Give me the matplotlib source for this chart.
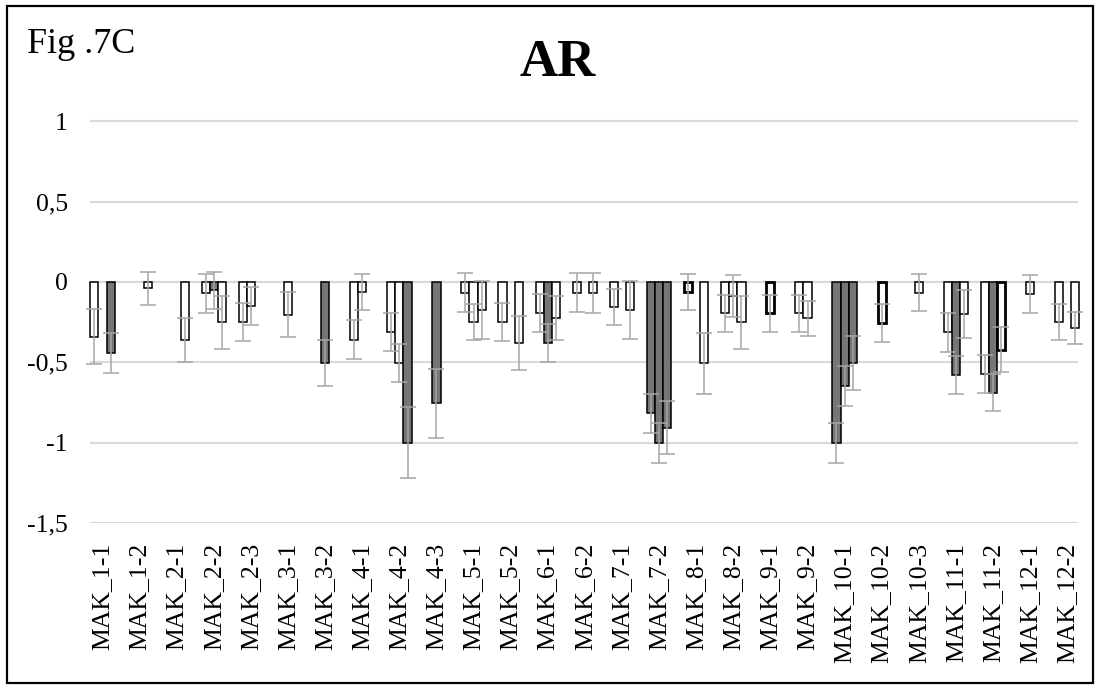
import numpy as np
import matplotlib
matplotlib.use("Agg")
import matplotlib.pyplot as plt
from matplotlib.patches import Rectangle

plt.rcParams['font.family'] = ['Liberation Serif', 'DejaVu Serif']

categories = ["MAK_1-1", "MAK_1-2", "MAK_2-1", "MAK_2-2", "MAK_2-3", "MAK_3-1", "MAK_3-2",
              "MAK_4-1", "MAK_4-2", "MAK_4-3", "MAK_5-1", "MAK_5-2", "MAK_6-1", "MAK_6-2",
              "MAK_7-1", "MAK_7-2", "MAK_8-1", "MAK_8-2", "MAK_9-1", "MAK_9-2", "MAK_10-1",
              "MAK_10-2", "MAK_10-3", "MAK_11-1", "MAK_11-2", "MAK_12-1", "MAK_12-2"]

nan = np.nan
# three series (bar positions within each category); NaN = no bar
series1 = [-0.34, nan, nan, -0.07, -0.25, nan, nan, -0.36, -0.31, nan, -0.066, -0.25, -0.195, -0.066,
           -0.153, -0.817, -0.06, -0.195, nan, -0.195, -1.0, nan, nan, -0.313, -0.572, nan, -0.25]
series2 = [nan, nan, nan, -0.05, -0.15, -0.205, -0.506, -0.06, -0.506, -0.755, -0.25, nan, -0.38, nan,
           nan, -1.0, nan, -0.086, -0.195, -0.226, -0.647, -0.257, -0.066, -0.579, -0.689, -0.075, nan]
series3 = [-0.44, -0.04, -0.36, -0.25, nan, nan, nan, nan, -1.0, nan, -0.174, -0.38, -0.222, -0.066,
           -0.174, -0.906, -0.506, -0.25, nan, nan, -0.506, nan, nan, -0.201, -0.423, nan, -0.288]

err1 = [0.17, 0, 0, 0.12, 0.117, 0, 0, 0.122, 0.12, 0, 0.12, 0.117, 0.118, 0.12,
        0.112, 0.12, 0.112, 0.117, 0, 0.117, 0.124, 0, 0, 0.12, 0.12, 0, 0.114]
err2 = [0, 0, 0, 0.115, 0.12, 0.14, 0.143, 0.112, 0.118, 0.213, 0.114, 0, 0.117, 0,
        0, 0.124, 0, 0.13, 0.117, 0.11, 0.127, 0.117, 0.116, 0.118, 0.114, 0.12, 0]
err3 = [0.125, 0.105, 0.137, 0.165, 0, 0, 0, 0, 0.223, 0, 0.18, 0.167, 0.137, 0.125,
        0.18, 0.167, 0.188, 0.165, 0, 0, 0.168, 0, 0, 0.15, 0.14, 0, 0.1]

# 1 = dark (significant) fill, 0 = white
dark1 = [0, 0, 0, 0, 0, 0, 0, 0, 0, 0, 0, 0, 0, 0, 0, 1, 0, 0, 0, 0, 1, 0, 0, 0, 0, 0, 0]
dark2 = [0, 0, 0, 1, 0, 0, 1, 0, 0, 1, 0, 0, 1, 0, 0, 1, 0, 0, 0, 0, 1, 0, 0, 1, 1, 0, 0]
dark3 = [1, 0, 0, 0, 0, 0, 0, 0, 1, 0, 0, 0, 0, 0, 0, 1, 0, 0, 0, 0, 1, 0, 0, 0, 0, 0, 0]
# 1 = heavy outline
thick1 = [0]*16 + [1] + [0]*10
thick2 = [0]*18 + [1, 0, 0, 1] + [0]*5
thick3 = [0]*24 + [1, 0, 0]

yticks = [1, 0.5, 0, -0.5, -1, -1.5]
ytick_labels = ["1", "0,5", "0", "-0,5", "-1", "-1,5"]

W, H = 1100, 689
fig = plt.figure(figsize=(W / 100, H / 100), dpi=100)

ax_left, ax_right = 90, 1078
ax_top, ax_bot = 113.3, 523
ax = fig.add_axes([ax_left / W, 1 - ax_bot / H, (ax_right - ax_left) / W, (ax_bot - ax_top) / H])

x = np.arange(len(categories))
bw = 0.22
offsets = [-bw, 0, bw]
all_vals = [series1, series2, series3]
all_errs = [err1, err2, err3]
all_dark = [dark1, dark2, dark3]
all_thick = [thick1, thick2, thick3]

for vals, errs, darks, thicks, off in zip(all_vals, all_errs, all_dark, all_thick, offsets):
    vals = np.array(vals, dtype=float)
    errs = np.array(errs, dtype=float)
    m = ~np.isnan(vals)
    colors = ['#767676' if d else 'white' for d in darks]
    lws = [2.0 if t else 1.1 for t in thicks]
    xs = x + off
    bars = ax.bar(xs[m], vals[m], width=bw, color=np.array(colors)[m],
                  edgecolor='black', linewidth=np.array(lws)[m], zorder=2, clip_on=False)
    ax.errorbar(xs[m], vals[m], yerr=errs[m], fmt='none', ecolor='#a6a6a6',
                elinewidth=1.1, capsize=6, capthick=1.1, zorder=3, clip_on=False)

ax.set_xlim(-0.337, 26.29)
ax.set_ylim(-1.5, 1.05)
ax.set_yticks(yticks)
ax.set_yticklabels(ytick_labels)
ax.set_xticks(x)
ax.set_xticklabels(categories, rotation=90, ha='center', va='top')
ax.tick_params(axis='y', length=0, pad=16, labelsize=18.5)
ax.tick_params(axis='x', length=0, pad=14, labelsize=18.5)
ax.grid(axis='y', color='#d9d9d9', linewidth=1.5, zorder=0)
ax.set_axisbelow(True)
for s in ax.spines.values():
    s.set_visible(False)

fig.text(27 / W, 1 - 53 / H, "Fig .7C", fontsize=26, ha='left', va='baseline')
fig.text(558 / W, 1 - 76 / H, "AR", fontsize=38, fontweight='bold', ha='center', va='baseline')

fig.patches.append(Rectangle((7 / W, 1 - 683 / H), (1093 - 7) / W, (683 - 6) / H,
                             transform=fig.transFigure, fill=False, edgecolor='black',
                             linewidth=1.6, zorder=10))

fig.savefig("out.png", dpi=100)
